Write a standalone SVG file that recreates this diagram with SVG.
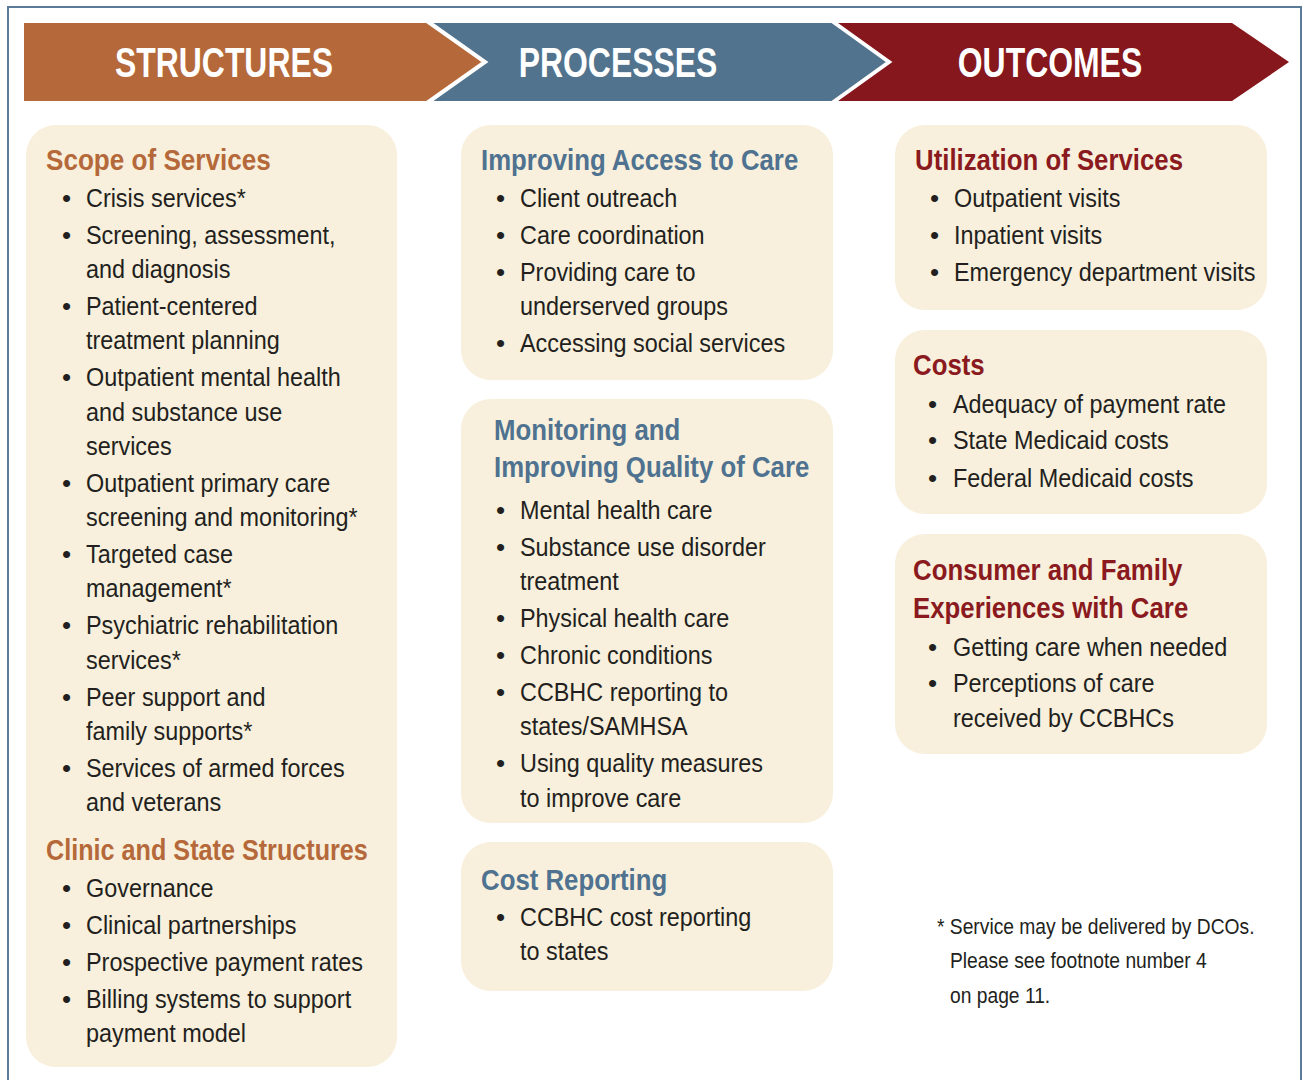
<svg xmlns="http://www.w3.org/2000/svg" width="1304" height="1080" viewBox="0 0 1304 1080">
<style>
.bg{fill:#ffffff}
.frame{fill:none;stroke:#5a7b97;stroke-width:2}
.box{fill:#f8f0dc}
.sep{fill:none;stroke:#ffffff;stroke-width:4;stroke-linejoin:miter}
.t{font-family:"Liberation Sans",Arial,sans-serif;font-weight:bold;font-size:42px;fill:#ffffff;text-anchor:middle}
.h{font-family:"Liberation Sans",Arial,sans-serif;font-weight:bold;font-size:30px}
.ho{fill:#b5693a}
.hb{fill:#4f7290}
.hr{fill:#8a1a1e}
.b{font-family:"Liberation Sans",Arial,sans-serif;font-size:26px;fill:#231f20}
.fn{font-family:"Liberation Sans",Arial,sans-serif;font-size:22px;fill:#231f20}
</style>
<rect class="bg" x="0" y="0" width="1304" height="1080"/>
<rect class="frame" x="8" y="7" width="1293" height="1100"/>

<g id="header">
  <g id="structures-arrow">
    <polygon points="24,23 427,23 485,62 427,101 24,101" fill="#b5693a"/>
    <text class="t" transform="translate(224 77) scale(.76 1)">STRUCTURES</text>
  </g>
  <g id="processes-arrow">
    <polygon points="427,23 832,23 889,62 832,101 427,101 485,62" fill="#52738e"/>
    <text class="t" transform="translate(618 77) scale(.76 1)">PROCESSES</text>
  </g>
  <g id="outcomes-arrow">
    <polygon points="832,23 1232,23 1289,62 1232,101 832,101 889,62" fill="#86171c"/>
    <text class="t" transform="translate(1050 77) scale(.76 1)">OUTCOMES</text>
  </g>
  <polyline class="sep" points="427,21 485,62 427,103"/>
  <polyline class="sep" points="832,21 889,62 832,103"/>
</g>

<g id="structures">
  <rect class="box" x="26" y="125" width="371" height="942" rx="30"/>
  <text class="h ho" transform="translate(46 170) scale(.87 1)">Scope of Services</text>
  <g class="bullets">
    <text class="b" x="62" y="207">•</text>
    <text class="b" x="62" y="244">•</text>
    <text class="b" x="62" y="315">•</text>
    <text class="b" x="62" y="386">•</text>
    <text class="b" x="62" y="492">•</text>
    <text class="b" x="62" y="563">•</text>
    <text class="b" x="62" y="634">•</text>
    <text class="b" x="62" y="706">•</text>
    <text class="b" x="62" y="777">•</text>
    <text class="b" x="62" y="897">•</text>
    <text class="b" x="62" y="934">•</text>
    <text class="b" x="62" y="971">•</text>
    <text class="b" x="62" y="1008">•</text>
  </g>
  <text class="b" transform="translate(86 207) scale(.9 1)">Crisis services*</text>
  <text class="b" transform="translate(86 244) scale(.9 1)">Screening, assessment,</text>
  <text class="b" transform="translate(86 278) scale(.9 1)">and diagnosis</text>
  <text class="b" transform="translate(86 315) scale(.9 1)">Patient-centered</text>
  <text class="b" transform="translate(86 349) scale(.9 1)">treatment planning</text>
  <text class="b" transform="translate(86 386) scale(.9 1)">Outpatient mental health</text>
  <text class="b" transform="translate(86 421) scale(.9 1)">and substance use</text>
  <text class="b" transform="translate(86 455) scale(.9 1)">services</text>
  <text class="b" transform="translate(86 492) scale(.9 1)">Outpatient primary care</text>
  <text class="b" transform="translate(86 526) scale(.9 1)">screening and monitoring*</text>
  <text class="b" transform="translate(86 563) scale(.9 1)">Targeted case</text>
  <text class="b" transform="translate(86 597) scale(.9 1)">management*</text>
  <text class="b" transform="translate(86 634) scale(.9 1)">Psychiatric rehabilitation</text>
  <text class="b" transform="translate(86 669) scale(.9 1)">services*</text>
  <text class="b" transform="translate(86 706) scale(.9 1)">Peer support and</text>
  <text class="b" transform="translate(86 740) scale(.9 1)">family supports*</text>
  <text class="b" transform="translate(86 777) scale(.9 1)">Services of armed forces</text>
  <text class="b" transform="translate(86 811) scale(.9 1)">and veterans</text>
  <text class="h ho" transform="translate(46 860) scale(.84 1)">Clinic and State Structures</text>
  <text class="b" transform="translate(86 897) scale(.9 1)">Governance</text>
  <text class="b" transform="translate(86 934) scale(.9 1)">Clinical partnerships</text>
  <text class="b" transform="translate(86 971) scale(.9 1)">Prospective payment rates</text>
  <text class="b" transform="translate(86 1008) scale(.9 1)">Billing systems to support</text>
  <text class="b" transform="translate(86 1042) scale(.9 1)">payment model</text>
</g>

<g id="access">
  <rect class="box" x="461" y="125" width="372" height="255" rx="30"/>
  <text class="h hb" transform="translate(481 170) scale(.86 1)">Improving Access to Care</text>
  <text class="b" x="496" y="207">•</text>
  <text class="b" x="496" y="244">•</text>
  <text class="b" x="496" y="281">•</text>
  <text class="b" x="496" y="352">•</text>
  <text class="b" transform="translate(520 207) scale(.9 1)">Client outreach</text>
  <text class="b" transform="translate(520 244) scale(.9 1)">Care coordination</text>
  <text class="b" transform="translate(520 281) scale(.9 1)">Providing care to</text>
  <text class="b" transform="translate(520 315) scale(.9 1)">underserved groups</text>
  <text class="b" transform="translate(520 352) scale(.9 1)">Accessing social services</text>
</g>

<g id="quality">
  <rect class="box" x="461" y="399" width="372" height="424" rx="30"/>
  <text class="h hb" transform="translate(494 440) scale(.86 1)">Monitoring and</text>
  <text class="h hb" transform="translate(494 477) scale(.86 1)">Improving Quality of Care</text>
  <text class="b" x="496" y="519">•</text>
  <text class="b" x="496" y="556">•</text>
  <text class="b" x="496" y="627">•</text>
  <text class="b" x="496" y="664">•</text>
  <text class="b" x="496" y="701">•</text>
  <text class="b" x="496" y="772">•</text>
  <text class="b" transform="translate(520 519) scale(.9 1)">Mental health care</text>
  <text class="b" transform="translate(520 556) scale(.9 1)">Substance use disorder</text>
  <text class="b" transform="translate(520 590) scale(.9 1)">treatment</text>
  <text class="b" transform="translate(520 627) scale(.9 1)">Physical health care</text>
  <text class="b" transform="translate(520 664) scale(.9 1)">Chronic conditions</text>
  <text class="b" transform="translate(520 701) scale(.9 1)">CCBHC reporting to</text>
  <text class="b" transform="translate(520 735) scale(.9 1)">states/SAMHSA</text>
  <text class="b" transform="translate(520 772) scale(.9 1)">Using quality measures</text>
  <text class="b" transform="translate(520 807) scale(.9 1)">to improve care</text>
</g>

<g id="cost-reporting">
  <rect class="box" x="461" y="842" width="372" height="149" rx="30"/>
  <text class="h hb" transform="translate(481 890) scale(.86 1)">Cost Reporting</text>
  <text class="b" x="496" y="926">•</text>
  <text class="b" transform="translate(520 926) scale(.9 1)">CCBHC cost reporting</text>
  <text class="b" transform="translate(520 960) scale(.9 1)">to states</text>
</g>

<g id="utilization">
  <rect class="box" x="895" y="125" width="372" height="185" rx="30"/>
  <text class="h hr" transform="translate(915 170) scale(.86 1)">Utilization of Services</text>
  <text class="b" x="930" y="207">•</text>
  <text class="b" x="930" y="244">•</text>
  <text class="b" x="930" y="281">•</text>
  <text class="b" transform="translate(954 207) scale(.9 1)">Outpatient visits</text>
  <text class="b" transform="translate(954 244) scale(.9 1)">Inpatient visits</text>
  <text class="b" transform="translate(954 281) scale(.9 1)">Emergency department visits</text>
</g>

<g id="costs">
  <rect class="box" x="895" y="330" width="372" height="184" rx="30"/>
  <text class="h hr" transform="translate(913 375) scale(.86 1)">Costs</text>
  <text class="b" x="928" y="413">•</text>
  <text class="b" x="928" y="449">•</text>
  <text class="b" x="928" y="487">•</text>
  <text class="b" transform="translate(953 413) scale(.9 1)">Adequacy of payment rate</text>
  <text class="b" transform="translate(953 449) scale(.9 1)">State Medicaid costs</text>
  <text class="b" transform="translate(953 487) scale(.9 1)">Federal Medicaid costs</text>
</g>

<g id="experiences">
  <rect class="box" x="895" y="534" width="372" height="220" rx="30"/>
  <text class="h hr" transform="translate(913 580) scale(.86 1)">Consumer and Family</text>
  <text class="h hr" transform="translate(913 618) scale(.86 1)">Experiences with Care</text>
  <text class="b" x="928" y="656">•</text>
  <text class="b" x="928" y="692">•</text>
  <text class="b" transform="translate(953 656) scale(.9 1)">Getting care when needed</text>
  <text class="b" transform="translate(953 692) scale(.9 1)">Perceptions of care</text>
  <text class="b" transform="translate(953 727) scale(.9 1)">received by CCBHCs</text>
</g>

<g id="footnote">
  <text class="fn" transform="translate(937 934) scale(.875 1)">* Service may be delivered by DCOs.</text>
  <text class="fn" transform="translate(950 968) scale(.875 1)">Please see footnote number 4</text>
  <text class="fn" transform="translate(950 1003) scale(.875 1)">on page 11.</text>
</g>
</svg>
